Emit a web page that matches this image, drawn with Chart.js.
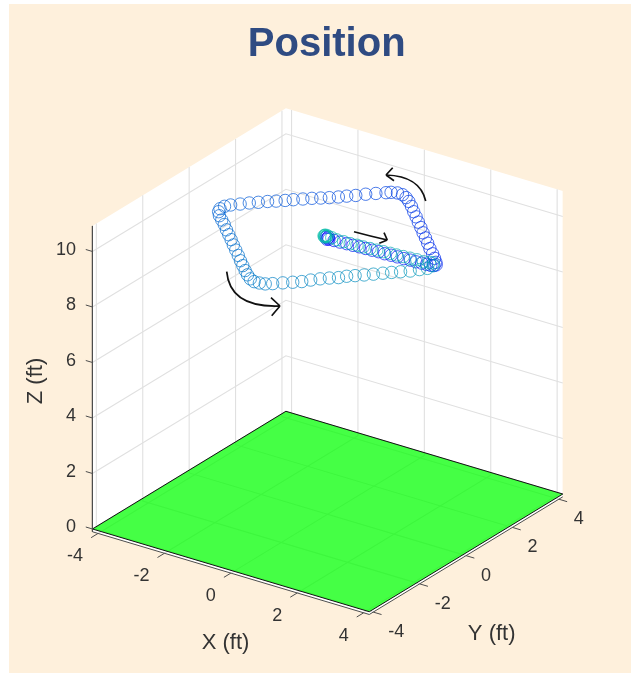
<!DOCTYPE html>
<html>
<head>
<meta charset="utf-8">
<title>Position</title>
<script src="https://cdn.jsdelivr.net/npm/chart.js@4"></script>
<style>
  html, body { margin: 0; padding: 0; background: #fff; }
  #panel { position: absolute; left: 9px; top: 4px; right: 0; bottom: 0; background: #fef0dc; }
  #chart { position: absolute; left: 0; top: 0; }
</style>
</head>
<body>
<div id="panel"></div>
<canvas id="chart" width="631" height="673"></canvas>
<script>
const titleText = 'Position';
const xLabel = 'X (ft)';
const yLabel = 'Y (ft)';
const zLabel = 'Z (ft)';

const xTicks = [-4, -2, 0, 2, 4];
const yTicks = [-4, -2, 0, 2, 4];
const zTicks = [0, 2, 4, 6, 8, 10];

const axisLimit = 4.17;
const zBottom = -0.1;
const zTop = 10.92;
const flightZ = 9.85;

// in feet, in flight order
const flightX = [
  -0.06, 0, 0.06, 0.02, -0.02,
  0.21, 0.38, 0.57, 0.75, 0.93, 1.11, 1.30, 1.48, 1.67, 1.85, 2.03, 2.22, 2.40, 2.57, 2.73, 2.87, 2.99, 3.06, 3.08,
  2.99, 2.83, 2.64, 2.41, 2.19, 1.97, 1.75, 1.53, 1.30, 1.08, 0.86, 0.64, 0.42, 0.24, 0.07,
  -0.09, -0.24, -0.33, -0.51, -0.69, -0.85, -1.01, -1.15, -1.31, -1.47, -1.64, -1.80, -1.97, -2.11, -2.27, -2.43, -2.59, -2.75, -2.90, -3.06, -3.14, -3.15, -3.08,
  -2.93, -2.74, -2.54, -2.32, -2.11, -1.90, -1.68, -1.46, -1.23, -1.01, -0.80, -0.59, -0.40, -0.21, -0.04,
  0.11, 0.26, 0.40, 0.58, 0.76, 0.92, 1.05, 1.20, 1.36, 1.53, 1.65, 1.80, 1.96, 2.12, 2.28, 2.43, 2.59, 2.76, 2.90, 3.02, 3.04, 2.96,
  2.86, 2.72, 2.52, 2.33, 2.14, 1.95, 1.77, 1.58, 1.39, 1.20, 1.01, 0.83, 0.64, 0.44, 0.24, 0.07, -0.08, -0.15, -0.15, -0.09, -0.09, -0.13,
];
const flightY = [
  0.03, 0, -0.03, -0.06, 0.06,
  -0.02, -0.01, 0.01, 0.02, 0.04, 0.05, 0.06, 0.08, 0.07, 0.09, 0.10, 0.11, 0.13, 0.13, 0.15, 0.16, 0.17, 0.21, 0.27,
  0.39, 0.56, 0.75, 0.96, 1.18, 1.40, 1.61, 1.83, 2.05, 2.27, 2.48, 2.70, 2.90, 3.04, 3.13,
  3.14, 3.08, 2.99, 2.81, 2.63, 2.43, 2.27, 2.11, 1.95, 1.81, 1.67, 1.51, 1.34, 1.19, 1.03, 0.89, 0.72, 0.56, 0.38, 0.20, 0.05, -0.13, -0.29,
  -0.47, -0.64, -0.82, -1.04, -1.24, -1.44, -1.66, -1.87, -2.09, -2.31, -2.51, -2.71, -2.88, -3.03, -3.11,
  -3.10, -3.06, -2.94, -2.76, -2.59, -2.43, -2.23, -2.04, -1.87, -1.72, -1.54, -1.39, -1.23, -1.06, -0.88, -0.72, -0.56, -0.39, -0.19, -0.02, 0.19, 0.32,
  0.30, 0.24, 0.24, 0.22, 0.20, 0.18, 0.17, 0.15, 0.13, 0.11, 0.09, 0.08, 0.06, 0.06, 0.05, 0.08, 0.11, 0.11, 0.06, 0.01, 0.06, 0.07,
];

// hand drawn arrows on top of the plot, in page pixels
const arrows = [
  { from: [425.7, 201], ctrl: [420, 176], to: [386, 175], head: [[392.7, 167.7], [394, 180.7]] },
  { from: [354, 231.7], ctrl: [370, 236], to: [387.3, 240], head: [[384, 232.7], [379.3, 243.3]] },
  { from: [226.7, 271.7], ctrl: [230, 308], to: [280, 306], head: [[271, 297.7], [271.7, 315.7]] },
];

// fixed 3D view onto the page
function project(x, y, z) {
  return {
    x: 327.6 + 33.2 * x + 23.2 * y,
    y: 511.5 + 9.92 * x - 14.11 * y - 27.75 * z,
  };
}

const lim = axisLimit;
const datasets = [];

function addLine(points, color, width, extra) {
  datasets.push(Object.assign({
    data: points,
    showLine: true,
    borderColor: color,
    borderWidth: width,
    pointRadius: 0,
    fill: false,
    clip: false,
    order: 1000 - datasets.length,
  }, extra));
}

// white box behind everything
addLine([project(-lim, -lim, zTop), project(-lim, lim, zTop), project(lim, lim, zTop)],
  'rgba(0,0,0,0)', 0, { fill: '+1', backgroundColor: '#ffffff' });
addLine([project(-lim, -lim, zBottom), project(lim, -lim, zBottom), project(lim, lim, zBottom)],
  'rgba(0,0,0,0)', 0);

const gridColor = '#e0e0e0';
xTicks.forEach((x) => {
  addLine([project(x, -lim, zBottom), project(x, lim, zBottom), project(x, lim, zTop)], gridColor, 1.1);
});
yTicks.forEach((y) => {
  addLine([project(lim, y, zBottom), project(-lim, y, zBottom), project(-lim, y, zTop)], gridColor, 1.1);
});
zTicks.forEach((z) => {
  addLine([project(-lim, -lim, z), project(-lim, lim, z), project(lim, lim, z)], gridColor, 1.1);
});

// green floor
addLine([project(-lim, -lim, 0), project(-lim, lim, 0), project(lim, lim, 0)],
  '#111111', 1, { fill: '+1', backgroundColor: 'rgba(0,255,0,0.73)' });
addLine([project(-lim, -lim, 0), project(lim, -lim, 0), project(lim, lim, 0)], '#111111', 1);

// axis lines and tick marks
const axisColor = '#4d4d4d';
addLine([project(-lim, -lim, zTop), project(-lim, -lim, zBottom), project(lim, -lim, zBottom), project(lim, lim, zBottom)], axisColor, 1);
xTicks.forEach((x) => {
  addLine([project(x, -lim, zBottom), project(x, -lim - 0.3, zBottom)], axisColor, 1);
});
yTicks.forEach((y) => {
  addLine([project(lim, y, zBottom), project(lim + 0.25, y, zBottom)], axisColor, 1);
});
zTicks.forEach((z) => {
  addLine([project(-lim, -lim, z), project(-lim - 0.2, -lim, z)], axisColor, 1);
});

// flight path, blue to green in time
const flightPoints = flightX.map((x, i) => project(x, flightY[i], flightZ));
const flightColors = flightX.map((x, i) => {
  const t = i / (flightX.length - 1);
  return `rgb(0,${Math.round(255 * t * 0.75)},${Math.round(255 * (1 - t * 0.35))})`;
});
datasets.push({
  data: flightPoints,
  showLine: false,
  pointStyle: 'circle',
  pointRadius: 6.2,
  pointBorderWidth: 0.7,
  pointBackgroundColor: 'rgba(0,0,0,0)',
  pointBorderColor: flightColors,
  clip: false,
  order: 1,
});

const overlayPlugin = {
  id: 'overlay',
  afterDatasetsDraw(chart) {
    const ctx = chart.ctx;
    const sx = chart.scales.x;
    const sy = chart.scales.y;
    const px = (p) => [sx.getPixelForValue(p[0]), sy.getPixelForValue(p[1])];

    ctx.save();
    ctx.strokeStyle = '#111111';
    ctx.lineWidth = 1.7;
    arrows.forEach((a) => {
      const from = px(a.from);
      const ctrl = px(a.ctrl);
      const to = px(a.to);
      ctx.beginPath();
      ctx.moveTo(from[0], from[1]);
      ctx.quadraticCurveTo(ctrl[0], ctrl[1], to[0], to[1]);
      a.head.forEach((h) => {
        const p = px(h);
        ctx.moveTo(p[0], p[1]);
        ctx.lineTo(to[0], to[1]);
      });
      ctx.stroke();
    });

    const label = (text, x, y, align, font) => {
      ctx.font = font;
      ctx.textAlign = align;
      ctx.textBaseline = 'middle';
      ctx.fillText(text, x, y);
    };
    const tickFont = '18px "Liberation Sans"';
    const titleFont = '22px "Liberation Sans"';
    ctx.fillStyle = '#333333';
    xTicks.forEach((x) => {
      const p = project(x, -lim, zBottom);
      label(String(x), p.x - 15, p.y + 23, 'right', tickFont);
    });
    yTicks.forEach((y) => {
      const p = project(lim, y, zBottom);
      label(String(y), p.x + 15, p.y + 20, 'left', tickFont);
    });
    zTicks.forEach((z) => {
      const p = project(-lim, -lim, z);
      label(String(z), 76, p.y - 1.5, 'right', tickFont);
    });
    label(xLabel, 225.5, 643, 'center', titleFont);
    label(yLabel, 491.7, 633.5, 'center', titleFont);
    ctx.save();
    ctx.translate(36, 381);
    ctx.rotate(-Math.PI / 2);
    label(zLabel, 0, 0, 'center', titleFont);
    ctx.restore();

    ctx.fillStyle = '#2f4b82';
    ctx.font = 'bold 40px "Liberation Sans"';
    ctx.textAlign = 'center';
    ctx.textBaseline = 'alphabetic';
    ctx.fillText(titleText, 326.7, 55.7);
    ctx.restore();
  },
};

new Chart(document.getElementById('chart'), {
  type: 'scatter',
  data: { datasets },
  options: {
    responsive: false,
    animation: false,
    layout: { padding: 0, autoPadding: false },
    plugins: { legend: { display: false }, tooltip: { enabled: false } },
    scales: {
      x: { type: 'linear', display: false, min: 0, max: 631 },
      y: { type: 'linear', display: false, min: 0, max: 673, reverse: true },
    },
  },
  plugins: [overlayPlugin],
});
</script>
</body>
</html>
